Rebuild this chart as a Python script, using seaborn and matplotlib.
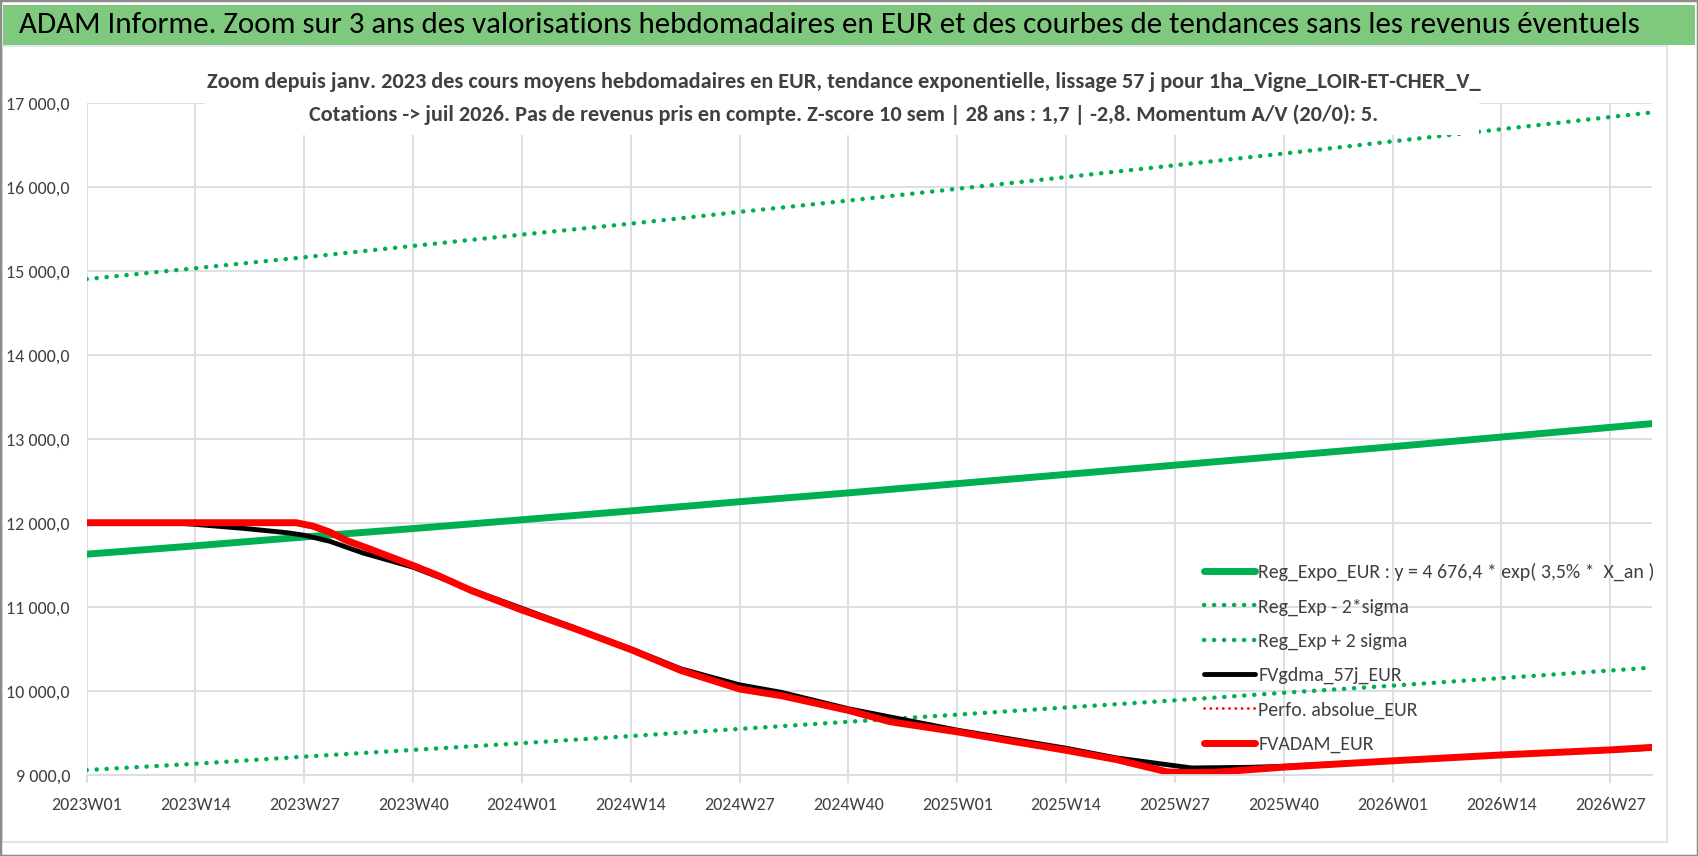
import matplotlib
matplotlib.use("Agg")
import matplotlib.pyplot as plt
from matplotlib.patches import Rectangle
from matplotlib.ticker import FuncFormatter, MultipleLocator
import seaborn as sns

# weekly categories 2023W01 .. 2026W32
WEEKS = [f"{2023 + i // 52}W{i % 52 + 1:02d}" for i in range(188)]

# trend curves read at every labelled week (+ last week)
TREND_IDX = [0, 13, 26, 39, 52, 65, 78, 91, 104, 117, 130, 143, 156, 169, 182, 187]
REG_EXPO = [11625, 11725, 11830, 11930, 12035, 12140, 12250, 12355, 12465,
            12575, 12685, 12795, 12905, 13020, 13135, 13180]
REG_LOW = [9055, 9130, 9215, 9295, 9375, 9460, 9545, 9630, 9715,
           9800, 9885, 9975, 10060, 10150, 10240, 10275]
REG_HIGH = [14900, 15030, 15160, 15295, 15430, 15560, 15700, 15835, 15975,
            16115, 16255, 16395, 16540, 16685, 16830, 16885]

# smoothed value (black) and ADAM value (red)
GDMA_IDX = [0, 10, 13, 19, 24, 26, 29, 33, 39, 46, 52, 58, 65, 71, 78, 83,
            91, 104, 117, 123, 129, 132, 139, 143, 156, 169, 182, 187]
FVGDMA = [12000, 12000, 11980, 11930, 11880, 11850, 11780, 11640, 11470, 11200,
          10980, 10760, 10500, 10260, 10070, 9980, 9785, 9530, 9315, 9200,
          9120, 9080, 9088, 9100, 9165, 9235, 9290, 9315]
ADAM_IDX = [0, 25, 27, 29, 31, 34, 39, 42, 46, 52, 58, 65, 71, 78, 83, 91,
            96, 104, 111, 117, 123, 129, 131, 135, 143, 156, 169, 182, 187]
FVADAM = [12000, 12000, 11960, 11890, 11790, 11680, 11490, 11370, 11190, 10960,
          10750, 10490, 10240, 10020, 9940, 9765, 9630, 9510, 9390, 9290,
          9180, 9035, 9025, 9030, 9090, 9165, 9235, 9295, 9325]
PERFO = FVADAM

TITLE = ("ADAM Informe. Zoom sur 3 ans des valorisations hebdomadaires en EUR "
         "et des courbes de tendances sans les revenus éventuels")
SUBTITLE = ("Zoom depuis janv. 2023 des cours moyens hebdomadaires en EUR, tendance "
            "exponentielle, lissage 57 j pour 1ha_Vigne_LOIR-ET-CHER_V_\n"
            "Cotations -> juil 2026. Pas de revenus pris en compte. Z-score 10 sem "
            "| 28 ans : 1,7 | -2,8. Momentum A/V (20/0): 5.")

GREEN = "#00B050"
RED = "#FF0000"
GRID = "#D9DCE3"
TXT = "#404040"

sns.set_theme(style="white")
plt.rcParams["font.family"] = ["Carlito", "Archivo Narrow", "DejaVu Sans"]

fig = plt.figure(figsize=(16.98, 8.56), dpi=100)
ax = fig.add_axes([0.051, 0.095, 0.922, 0.785])

dot = dict(linestyle=(0, (0.05, 2.2)), dash_capstyle="round")
sns.lineplot(x=TREND_IDX, y=REG_EXPO, ax=ax, color=GREEN, linewidth=5,
             label="Reg_Expo_EUR : y = 4 676,4 * exp( 3,5% *  X_an )")
sns.lineplot(x=TREND_IDX, y=REG_LOW, ax=ax, color=GREEN, linewidth=3.2,
             label="Reg_Exp - 2*sigma", **dot)
sns.lineplot(x=TREND_IDX, y=REG_HIGH, ax=ax, color=GREEN, linewidth=3.2,
             label="Reg_Exp + 2 sigma", **dot)
sns.lineplot(x=GDMA_IDX, y=FVGDMA, ax=ax, color="black", linewidth=3.5,
             label="FVgdma_57j_EUR")
sns.lineplot(x=ADAM_IDX, y=PERFO, ax=ax, color=RED, linewidth=2,
             label="Perfo. absolue_EUR", **dot)
sns.lineplot(x=ADAM_IDX, y=FVADAM, ax=ax, color=RED, linewidth=5,
             label="FVADAM_EUR")

ax.set_xlim(0, len(WEEKS) - 1)
ax.set_ylim(9000, 17000)
ax.set_xticks(range(0, len(WEEKS), 13))
ax.set_xticklabels([WEEKS[i] for i in range(0, len(WEEKS), 13)])
ax.yaxis.set_major_locator(MultipleLocator(1000))
ax.yaxis.set_major_formatter(FuncFormatter(
    lambda v, _: f"{v:,.1f}".replace(",", " ").replace(".", ",")))
ax.grid(True, color=GRID, linewidth=1.3)
ax.set_axisbelow(True)
for side in ["top", "right", "left"]:
    ax.spines[side].set_visible(False)
ax.spines["bottom"].set_color(GRID)
ax.spines["bottom"].set_linewidth(1.3)
ax.tick_params(axis="x", colors=TXT, labelsize=13, length=6, width=1.3,
               pad=10, color=GRID, bottom=True)
ax.tick_params(axis="y", colors=TXT, labelsize=13, length=0, pad=12)
ax.set_xlabel("")
ax.set_ylabel("")

ax.legend(loc="upper left", bbox_to_anchor=(0.703, 0.354),
          bbox_transform=fig.transFigure, frameon=False, fontsize=14.3,
          handlelength=2.6, handletextpad=0.15, labelspacing=0.86,
          borderpad=0, labelcolor=TXT)

# white box behind the subtitle (hides the top trend locally)
fig.add_artist(Rectangle((0.121, 0.842), 0.750, 0.09, transform=fig.transFigure,
                         facecolor="white", edgecolor="none", zorder=5))
fig.text(0.497, 0.885, SUBTITLE, ha="center", va="center", fontsize=16,
         fontweight="bold", color=TXT, linespacing=1.8, zorder=6)

# green banner with the main title
fig.add_artist(Rectangle((0.002, 0.947), 0.996, 0.047, transform=fig.transFigure,
                         facecolor="#7FC97F", edgecolor="none", zorder=5))
fig.text(0.011, 0.971, TITLE, ha="left", va="center", fontsize=22.3,
         color="black", zorder=6)
fig.add_artist(Rectangle((0.001, 0.016), 0.981, 0.93, transform=fig.transFigure,
                         facecolor="none", edgecolor="#E3E5EA", linewidth=1.5,
                         zorder=4))
fig.add_artist(Rectangle((0.0, 0.0), 1.0, 1.0, transform=fig.transFigure,
                         facecolor="none", edgecolor="#8C8C8C", linewidth=2.5,
                         zorder=7))

fig.savefig("out.png", dpi=100)
